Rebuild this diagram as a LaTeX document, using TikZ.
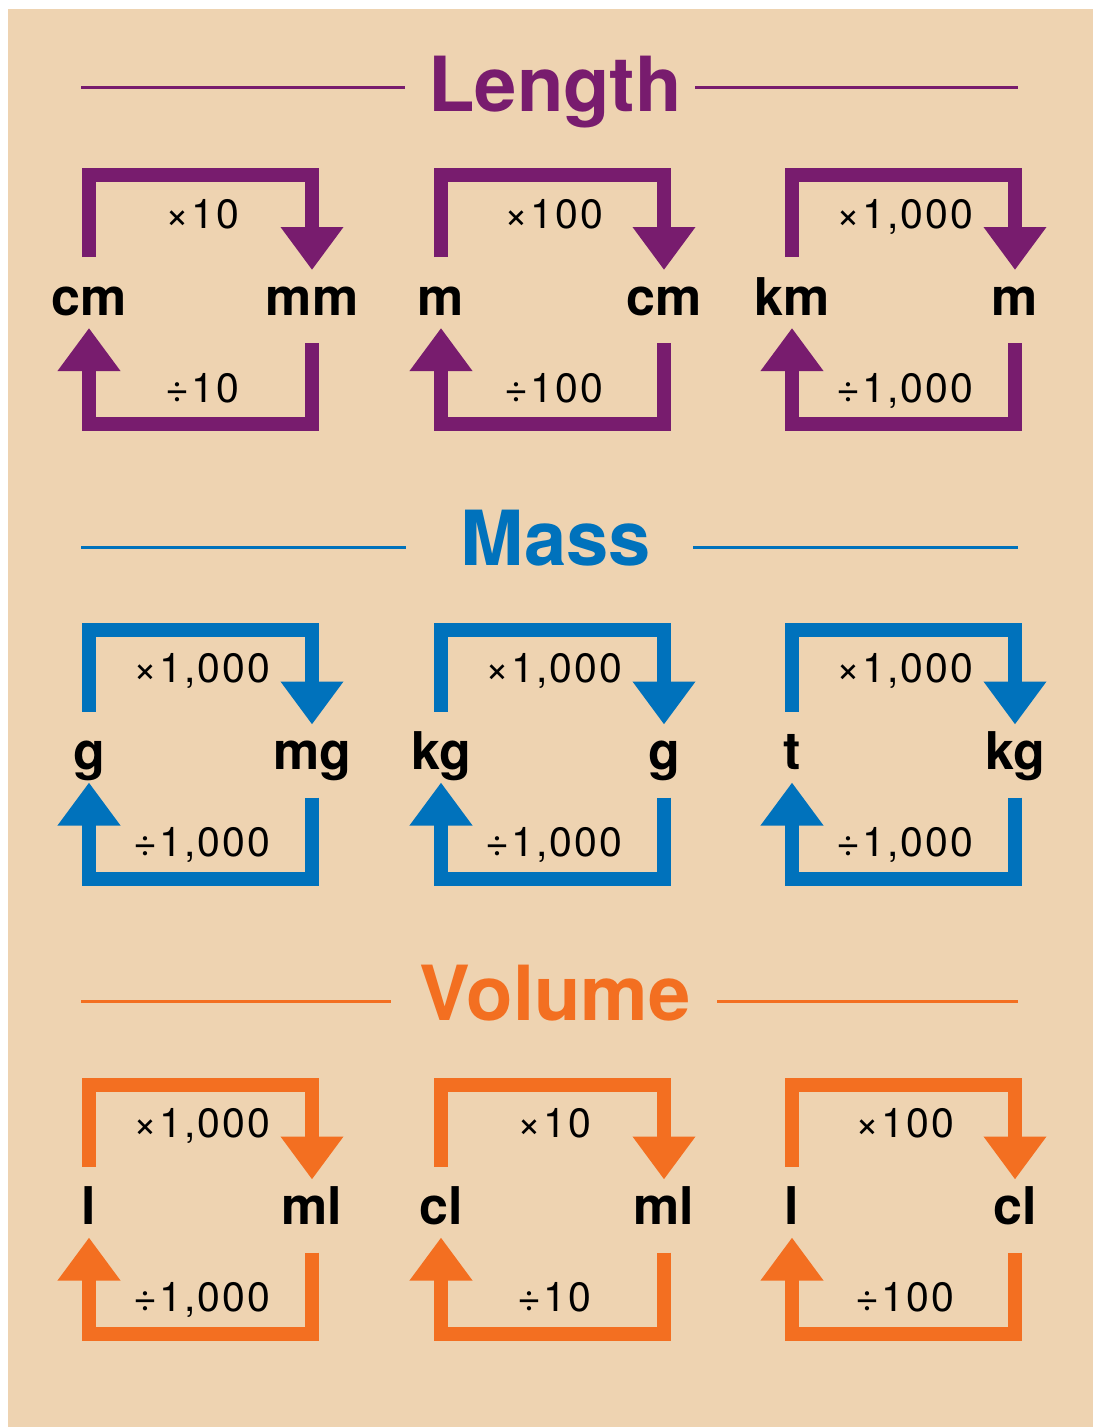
\documentclass[tikz,border=0pt]{standalone}
\usepackage{fontspec}
\setmainfont{TeX Gyre Heros}
\newfontfamily\opfont[LetterSpace=5]{TeX Gyre Heros}
\usetikzlibrary{arrows.meta,calc}
\definecolor{bgbeige}{HTML}{EED3B1}
\definecolor{lenpurple}{HTML}{781C6E}
\definecolor{massblue}{HTML}{0072BC}
\definecolor{volorange}{HTML}{F36F21}
\tikzset{
  unit/.style={font=\bfseries\fontsize{52}{52}\selectfont, anchor=base, inner sep=0pt, text=black},
  oplabel/.style={font=\opfont\fontsize{41}{41}\selectfont, anchor=base, inner sep=0pt, text=black},
  titletext/.style={font=\bfseries\fontsize{76}{76}\selectfont, anchor=base, inner sep=0pt, text=#1},
  titleline/.style={draw=#1, line width=3pt},
  conv/.style={draw=#1, line width=14pt, line join=miter, line cap=butt,
    -{Triangle[width=60pt,length=43pt]}, color=#1},
}
\newcommand{\convbox}[8]{%
  \begin{scope}[shift={(#2,#3)}]
    \node[unit] (#1-l) at (89,315) {#5};
    \node[unit] (#1-r) at (312,315) {#6};
    \node[oplabel] (#1-m) at (202,228) {×#7};
    \node[oplabel] (#1-v) at (202,402) {÷#8};
    \coordinate (#1-a) at (89,257);
    \coordinate (#1-tl) at (89,175);
    \coordinate (#1-tr) at (312,175);
    \coordinate (#1-b) at (312,270);
    \coordinate (#1-c) at (312,343);
    \coordinate (#1-br) at (312,424);
    \coordinate (#1-bl) at (89,424);
    \coordinate (#1-d) at (89,328);
    \draw[conv=#4] (#1-a) -- (#1-tl) -- (#1-tr) -- (#1-b);
    \draw[conv=#4] (#1-c) -- (#1-br) -- (#1-bl) -- (#1-d);
  \end{scope}}
\begin{document}
\begin{tikzpicture}[x=1pt,y=-1pt]
  \useasboundingbox (0,0) rectangle (1093,1427);
  \fill[white] (0,0) rectangle (1093,1427);
  \fill[bgbeige] (8,9) rectangle (1093,1427);

  % Length
  \node[titletext=lenpurple] (tlen) at (555,111) {Length};
  \coordinate (tlen-a1) at (81,87);  \coordinate (tlen-a2) at (405,87);
  \coordinate (tlen-b1) at (695,87); \coordinate (tlen-b2) at (1018,87);
  \draw[titleline=lenpurple] (tlen-a1) -- (tlen-a2);
  \draw[titleline=lenpurple] (tlen-b1) -- (tlen-b2);
  \convbox{l1}{0}{0}{lenpurple}{cm}{mm}{10}{10}
  \convbox{l2}{352}{0}{lenpurple}{m}{cm}{100}{100}
  \convbox{l3}{703}{0}{lenpurple}{km}{m}{1,000}{1,000}

  % Mass
  \node[titletext=massblue] (tmass) at (556,565) {Mass};
  \coordinate (tmass-a1) at (81,547);  \coordinate (tmass-a2) at (406,547);
  \coordinate (tmass-b1) at (693,547); \coordinate (tmass-b2) at (1018,547);
  \draw[titleline=massblue] (tmass-a1) -- (tmass-a2);
  \draw[titleline=massblue] (tmass-b1) -- (tmass-b2);
  \convbox{m1}{0}{454.5}{massblue}{g}{mg}{1,000}{1,000}
  \convbox{m2}{352}{454.5}{massblue}{kg}{g}{1,000}{1,000}
  \convbox{m3}{703}{454.5}{massblue}{t}{kg}{1,000}{1,000}

  % Volume
  \node[titletext=volorange] (tvol) at (555,1020) {Volume};
  \coordinate (tvol-a1) at (81,1001);  \coordinate (tvol-a2) at (391,1001);
  \coordinate (tvol-b1) at (717,1001); \coordinate (tvol-b2) at (1018,1001);
  \draw[titleline=volorange] (tvol-a1) -- (tvol-a2);
  \draw[titleline=volorange] (tvol-b1) -- (tvol-b2);
  \convbox{v1}{0}{909.5}{volorange}{l}{ml}{1,000}{1,000}
  \convbox{v2}{352}{909.5}{volorange}{cl}{ml}{10}{10}
  \convbox{v3}{703}{909.5}{volorange}{l}{cl}{100}{100}
\end{tikzpicture}
\end{document}
